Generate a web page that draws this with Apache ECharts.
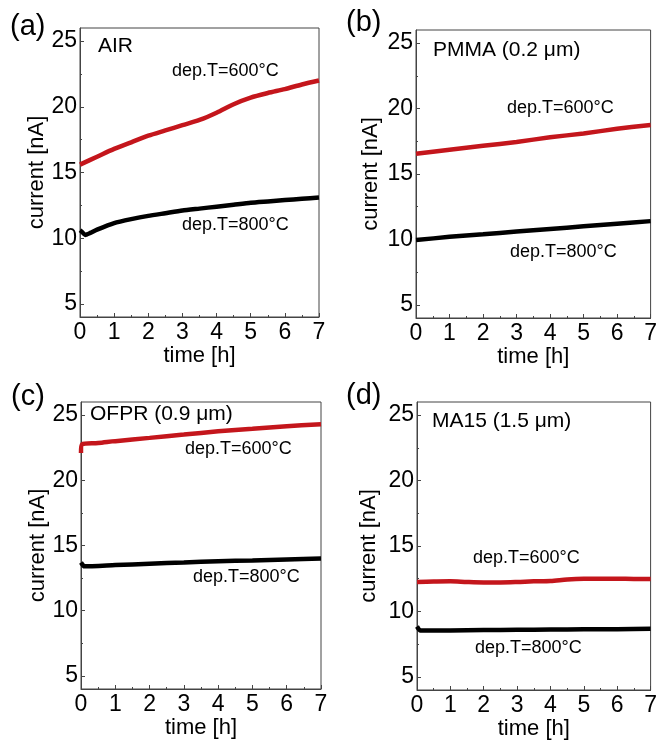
<!DOCTYPE html>
<html>
<head>
<meta charset="utf-8">
<script src="https://cdn.jsdelivr.net/npm/echarts@6/dist/echarts.min.js"></script>
<style>
  html, body { margin: 0; padding: 0; background: #fff; }
  #chart { width: 660px; height: 746px; }
</style>
</head>
<body>
<div id="chart"></div>
<script>
// panel titles and curve labels
var panelLetters = ['(a)', '(b)', '(c)', '(d)'];
var panelTitles = ['AIR', 'PMMA (0.2 \u03bcm)', 'OFPR (0.9 \u03bcm)', 'MA15 (1.5 \u03bcm)'];
var label600 = 'dep.T=600\u00b0C';
var label800 = 'dep.T=800\u00b0C';

// axis ticks
var xTicks = [0, 1, 2, 3, 4, 5, 6, 7];
var yMajor = [5, 10, 15, 20, 25];
var yMinor = [7.5, 12.5, 17.5, 22.5];

// [time h, current nA]
var airRed = [[0, 15.6], [0.5, 16.2], [1, 16.8], [1.5, 17.3], [2, 17.8], [2.5, 18.2], [3, 18.6], [3.5, 19.0],
  [4, 19.55], [4.5, 20.2], [5, 20.7], [5.5, 21.05], [6, 21.35], [6.5, 21.7], [7, 22.0]];
var airBlack = [[0, 10.6], [0.05, 10.5], [0.15, 10.25], [0.3, 10.4], [0.5, 10.65], [1, 11.15], [1.5, 11.45],
  [2, 11.7], [2.5, 11.9], [3, 12.1], [3.5, 12.25], [4, 12.4], [4.5, 12.55], [5, 12.7], [5.5, 12.8],
  [6, 12.9], [6.5, 13.0], [7, 13.1]];
var pmmaRed = [[0, 16.55], [1, 16.85], [2, 17.15], [3, 17.45], [4, 17.8], [5, 18.1], [6, 18.45], [7, 18.75]];
var pmmaBlack = [[0, 9.95], [1, 10.2], [2, 10.4], [3, 10.6], [4, 10.8], [5, 11.0], [6, 11.2], [7, 11.4]];
var ofprRed = [[0, 22.1], [0.03, 22.75], [0.5, 22.85], [1, 23.0], [2, 23.25], [3, 23.5], [4, 23.75],
  [5, 23.95], [6, 24.15], [7, 24.3]];
var ofprBlack = [[0, 13.7], [0.1, 13.4], [1, 13.5], [2, 13.6], [3, 13.7], [4, 13.8], [5, 13.85], [6, 13.93], [7, 14.0]];
var ma15Red = [[0, 12.25], [0.5, 12.28], [1, 12.3], [1.5, 12.25], [2, 12.22], [2.5, 12.22], [3, 12.25],
  [3.5, 12.3], [4, 12.32], [4.5, 12.45], [5, 12.5], [5.5, 12.5], [6, 12.5], [6.5, 12.48], [7, 12.48]];
var ma15Black = [[0, 8.85], [0.1, 8.55], [1, 8.55], [2, 8.58], [3, 8.6], [4, 8.62], [5, 8.64], [6, 8.65], [7, 8.67]];

var redSeries = [airRed, pmmaRed, ofprRed, ma15Red];
var blackSeries = [airBlack, pmmaBlack, ofprBlack, ma15Black];

(function() {
  var font = "'Liberation Sans', Arial, sans-serif";
  var red = '#c4161c';
  var ink = '#000';
  var frame = '#444';

  var grids = [
    { left: 80, top: 28, width: 239, height: 289 },
    { left: 416, top: 30, width: 238, height: 288 },
    { left: 81, top: 402, width: 240, height: 287 },
    { left: 417, top: 402, width: 237, height: 288 }
  ];
  var yNameGap = [28, 34, 31, 37];

  // text positions: [x, y] left / middle
  var letterPos = [[10, 27], [346, 23], [11, 397], [346, 396]];
  var titlePos = [[98, 46], [433, 50], [90, 414], [432, 421]];
  var pos600 = [[172, 71], [507, 108], [185, 449], [473, 558]];
  var pos800 = [[182, 225], [510, 252], [193, 577], [475, 648]];

  var xAxes = [], yAxes = [], series = [], graphic = [];
  grids.forEach(function(g, i) {
    g.show = true;
    g.borderColor = frame;
    g.borderWidth = 1;
    g.containLabel = false;

    xAxes.push({
      gridIndex: i,
      type: 'value',
      min: 0, max: 7, interval: 1,
      name: 'time [h]',
      nameLocation: 'middle',
      nameGap: 25,
      nameTextStyle: { color: ink, fontSize: 22, fontFamily: font },
      axisLine: { show: true, lineStyle: { color: frame, width: 1 } },
      axisTick: { inside: true, length: 4, lineStyle: { color: frame } },
      minorTick: { show: true, splitNumber: 2, length: 2, lineStyle: { color: frame } },
      axisLabel: { color: ink, fontSize: 23, fontFamily: font, margin: 4,
        customValues: xTicks },
      splitLine: { show: false }
    });

    yAxes.push({
      gridIndex: i,
      type: 'value',
      min: 4, max: 26,
      position: 'left',
      name: 'current [nA]',
      nameLocation: 'middle',
      nameGap: yNameGap[i],
      nameTextStyle: { color: ink, fontSize: 22, fontFamily: font },
      axisLine: { show: true, lineStyle: { color: frame, width: 1 } },
      axisTick: { inside: true, length: 4, customValues: yMajor, lineStyle: { color: frame } },
      axisLabel: { color: ink, fontSize: 23, fontFamily: font, margin: 3, customValues: yMajor },
      splitLine: { show: false }
    });
    // minor ticks on y
    yAxes.push({
      gridIndex: i,
      type: 'value',
      min: 4, max: 26,
      position: 'left',
      offset: 0,
      axisLine: { show: false },
      axisTick: { show: true, inside: true, length: 2, customValues: yMinor, lineStyle: { color: frame } },
      axisLabel: { show: false },
      splitLine: { show: false }
    });

    series.push({
      type: 'line',
      xAxisIndex: i,
      yAxisIndex: i * 2,
      data: redSeries[i],
      showSymbol: false,
      smooth: 0.3,
      lineStyle: { color: red, width: 4.5 },
      z: 3
    });
    series.push({
      type: 'line',
      xAxisIndex: i,
      yAxisIndex: i * 2,
      data: blackSeries[i],
      showSymbol: false,
      smooth: 0.2,
      lineStyle: { color: ink, width: 4.5 },
      z: 3
    });

    function txt(p, s, size) {
      return {
        type: 'text',
        x: p[0], y: p[1],
        style: { text: s, fill: ink, font: size + 'px ' + font, textAlign: 'left', textVerticalAlign: 'middle' },
        z: 10
      };
    }
    graphic.push(txt(letterPos[i], panelLetters[i], 29));
    graphic.push(txt(titlePos[i], panelTitles[i], 21));
    graphic.push(txt(pos600[i], label600, 18));
    graphic.push(txt(pos800[i], label800, 18));
  });

  var chart = echarts.init(document.getElementById('chart'), null, { renderer: 'canvas' });
  chart.setOption({
    animation: false,
    backgroundColor: '#fff',
    grid: grids,
    xAxis: xAxes,
    yAxis: yAxes,
    series: series,
    graphic: graphic
  });
  window.addEventListener('resize', function() { chart.resize(); });
})();
</script>
</body>
</html>
